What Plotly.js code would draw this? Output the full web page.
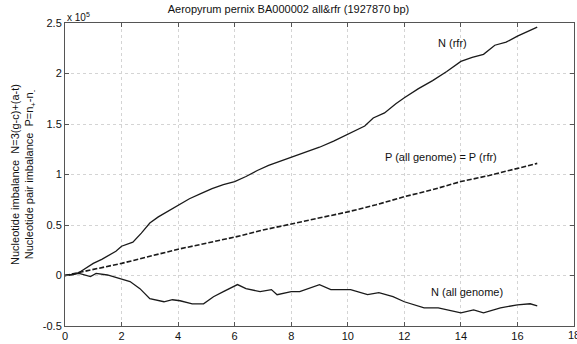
<!DOCTYPE html>
<html>
<head>
<meta charset="utf-8">
<script src="https://cdn.plot.ly/plotly-3.0.1.min.js"></script>
<style>html,body{margin:0;padding:0;background:#fff;}#chart{width:577px;height:344px;}</style>
</head>
<body>
<div id="chart"></div>
<script>
// x in units of 1e5 bp, y in units of 1e5
var nRfrX = [0,0.3,0.5,0.8,1.0,1.3,1.6,1.8,2.0,2.2,2.4,2.7,3.0,3.3,3.6,4.0,4.4,4.8,5.2,5.6,6.0,6.4,6.8,7.2,7.6,8.0,8.5,9.0,9.5,10.0,10.3,10.6,10.9,11.3,11.7,12.0,12.5,13.0,13.5,14.0,14.4,14.8,15.2,15.6,16.0,16.4,16.7];
var nRfrY = [0,0.01,0.03,0.08,0.12,0.16,0.21,0.24,0.29,0.31,0.33,0.42,0.52,0.58,0.63,0.70,0.76,0.81,0.86,0.90,0.93,0.98,1.04,1.09,1.13,1.17,1.22,1.27,1.33,1.40,1.44,1.48,1.56,1.61,1.70,1.76,1.85,1.93,2.02,2.12,2.16,2.19,2.28,2.31,2.37,2.42,2.46];

var pX = [0,1,2,3,4,5,6,7,8,9,10,11,12,13,14,15,16,16.7];
var pY = [0,0.06,0.12,0.19,0.26,0.32,0.38,0.45,0.51,0.57,0.63,0.70,0.78,0.85,0.93,0.99,1.06,1.11];

var nAllX = [0,0.5,0.9,1.1,1.5,1.9,2.3,2.65,3.0,3.5,3.8,4.07,4.5,4.9,5.25,5.6,6.1,6.4,6.9,7.3,7.5,8.0,8.3,9.0,9.4,10.1,10.7,11.1,11.6,12.0,12.7,13.2,13.5,14.0,14.45,14.8,15.4,16.0,16.45,16.7];
var nAllY = [0,0.02,-0.01,0.02,0.005,-0.03,-0.06,-0.13,-0.23,-0.26,-0.24,-0.25,-0.28,-0.28,-0.21,-0.16,-0.09,-0.13,-0.16,-0.14,-0.19,-0.16,-0.16,-0.09,-0.14,-0.14,-0.19,-0.17,-0.21,-0.26,-0.32,-0.32,-0.34,-0.37,-0.34,-0.37,-0.32,-0.29,-0.28,-0.30];

var xTicks = [0,2,4,6,8,10,12,14,16];
var xLastTick = 18;
var yTicks = [-0.5,0,0.5,1,1.5,2,2.5];
var yTickText = ["-0.5","0","0.5","1","1.5","2","2.5"];

var labels = [
  {x: 13.7, y: 2.30, text: "N (rfr)"},
  {x: 13.3, y: 1.17, text: "P (all genome) = P (rfr)"},
  {x: 14.2, y: -0.16, text: "N (all genome)"}
];

var lineColor = "#1a1a1a";
var traces = [
  {x: nRfrX, y: nRfrY, mode: "lines", line: {color: lineColor, width: 1.3}},
  {x: pX, y: pY, mode: "lines", line: {color: lineColor, width: 1.6, dash: "5px,2px"}},
  {x: nAllX, y: nAllY, mode: "lines", line: {color: lineColor, width: 1.3}}
];

var font = {family: "Liberation Sans, Arial, sans-serif", size: 11, color: "#111"};

var annotations = labels.map(function(l){
  return {x: l.x, y: l.y, xref: "x", yref: "y", text: l.text, showarrow: false, font: font, xanchor: "center", yanchor: "middle"};
});
annotations.push({x: 0, y: 1, xref: "paper", yref: "paper", xanchor: "left", yanchor: "bottom", text: "x 10<sup>5</sup>", showarrow: false, font: {family: font.family, size: 10, color: "#111"}, yshift: -2});
annotations.push({x: xLastTick, y: 0, xref: "x", yref: "paper", xanchor: "center", yanchor: "top", text: String(xLastTick), showarrow: false, font: font, yshift: -1});

var layout = {
  width: 577, height: 344,
  margin: {l: 65, r: 3, t: 23, b: 18, pad: 0},
  paper_bgcolor: "#fff", plot_bgcolor: "#fff",
  showlegend: false,
  title: {text: "Aeropyrum pernix BA000002 all&rfr (1927870 bp)", font: {family: font.family, size: 11, color: "#111"}, x: 0.5, xanchor: "center", y: 0.985, yanchor: "top"},
  font: font,
  xaxis: {
    range: [0, 18], tickvals: xTicks.concat([xLastTick]), ticktext: xTicks.map(String).concat([""]),
    showgrid: true, gridcolor: "#d4d4d4", griddash: "dot", gridwidth: 1,
    zeroline: false, showline: true, linecolor: "#555", linewidth: 1, mirror: "ticks",
    ticks: "inside", ticklen: 4, tickcolor: "#555", tickfont: font
  },
  yaxis: {
    range: [-0.5, 2.5], tickvals: yTicks, ticktext: yTickText,
    showgrid: true, gridcolor: "#d4d4d4", griddash: "dot", gridwidth: 1,
    zeroline: false, showline: true, linecolor: "#555", linewidth: 1, mirror: "ticks",
    ticks: "inside", ticklen: 4, tickcolor: "#555", tickfont: font,
    title: {text: "Nucleotide imbalance  N=3(g-c)+(a-t)<br>Nucleotide pair imbalance  P=n<sub>+</sub>-n<sub>-</sub>", font: {family: font.family, size: 11, color: "#111"}, standoff: 6}
  },
  annotations: annotations
};

Plotly.newPlot("chart", traces, layout, {staticPlot: true, displayModeBar: false});
</script>
</body>
</html>
